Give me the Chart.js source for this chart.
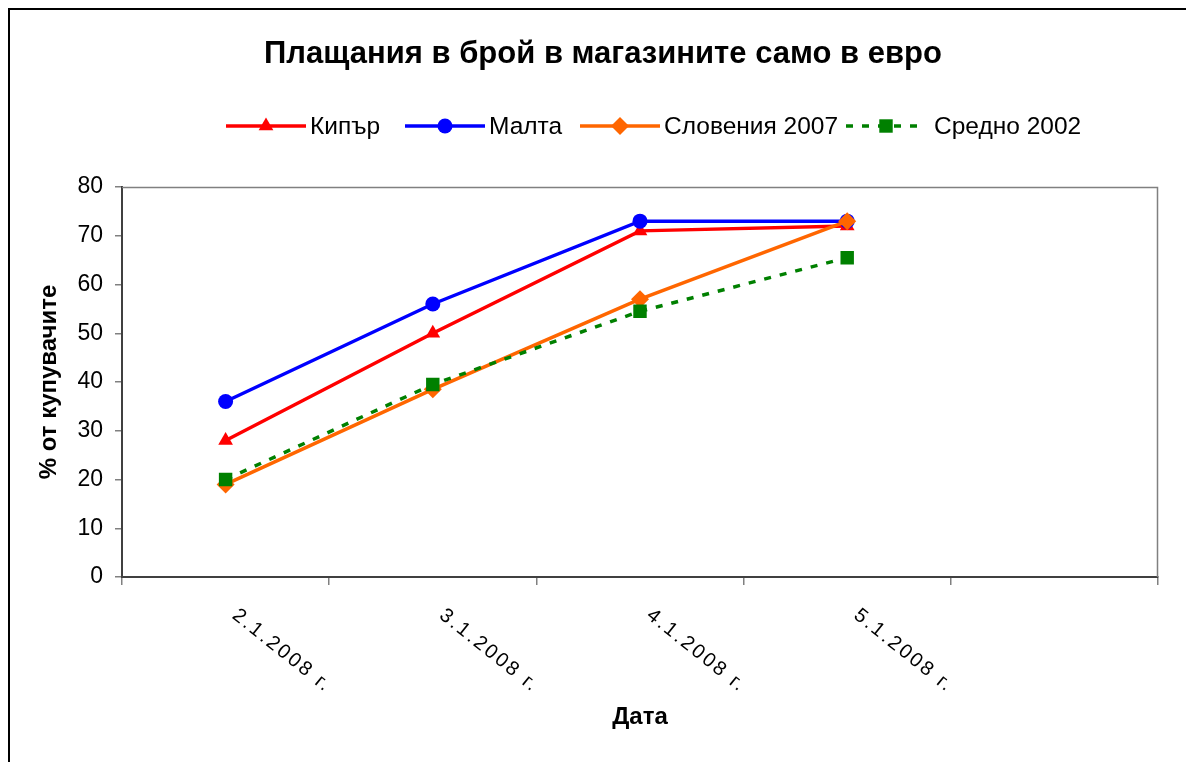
<!DOCTYPE html>
<html>
<head>
<meta charset="utf-8">
<script src="https://cdn.jsdelivr.net/npm/chart.js@4.4.0/dist/chart.umd.min.js"></script>
<style>
  html, body { margin: 0; padding: 0; background: #fff; }
  #wrap { width: 1186px; height: 762px; position: relative; }
</style>
</head>
<body>
<div id="wrap"><canvas id="c" width="1186" height="762"></canvas></div>
<script>
// Dates of the survey (the fifth slot is left empty on the axis)
const dates = ['2.1.2008 г.', '3.1.2008 г.', '4.1.2008 г.', '5.1.2008 г.', ''];

// Share of shoppers paying cash only in euro, %
const cyprus       = [28, 50, 71, 72, null];
const malta        = [36, 56, 73, 73, null];
const slovenia2007 = [19, 38.5, 57, 73, null];
const average2002  = [20, 39.5, 54.5, 65.5, null];

const seriesNames = ['Кипър', 'Малта', 'Словения 2007', 'Средно 2002'];
const yMin = 0, yMax = 80, yStep = 10;

const chartTitle = 'Плащания в брой в магазините само в евро';
const yTitle = '% от купувачите';
const xTitle = 'Дата';

const FONT = '"Liberation Sans", Arial, sans-serif';

const series = [
  { name: seriesNames[0], data: cyprus,       color: '#FF0000', style: 'triangle', radius: 8.5, dash: [],     order: 3 },
  { name: seriesNames[1], data: malta,        color: '#0000FF', style: 'circle',   radius: 7.5, dash: [],     order: 2 },
  { name: seriesNames[2], data: slovenia2007, color: '#FF6600', style: 'rectRot',  radius: 9,   dash: [],     order: 1 },
  { name: seriesNames[3], data: average2002,  color: '#008000', style: 'rect',     radius: 9.5, dash: [7, 9], order: 0 }
];

function drawMarker(ctx, style, r, x, y, color) {
  ctx.save();
  ctx.fillStyle = color;
  ctx.beginPath();
  if (style === 'circle') {
    ctx.arc(x, y, r, 0, Math.PI * 2);
  } else if (style === 'triangle') {
    const a = Math.PI * 2 / 3;
    for (let i = 0; i < 3; i++) {
      const px = x + Math.sin(i * a) * r, py = y - Math.cos(i * a) * r;
      i ? ctx.lineTo(px, py) : ctx.moveTo(px, py);
    }
    ctx.closePath();
  } else if (style === 'rectRot') {
    ctx.moveTo(x - r, y); ctx.lineTo(x, y - r); ctx.lineTo(x + r, y); ctx.lineTo(x, y + r);
    ctx.closePath();
  } else {
    const s = r * Math.SQRT1_2;
    ctx.rect(x - s, y - s, 2 * s, 2 * s);
  }
  ctx.fill();
  ctx.restore();
}

const decor = {
  id: 'decor',
  beforeDraw(chart) {
    const ctx = chart.ctx;
    ctx.save();
    ctx.fillStyle = '#fff';
    ctx.fillRect(0, 0, chart.width, chart.height);
    ctx.restore();
  },
  afterDraw(chart) {
    const { ctx, chartArea: a } = chart;
    const xs = chart.scales.x;
    ctx.save();

    // plot frame: top and right edges
    ctx.strokeStyle = '#808080';
    ctx.lineWidth = 1.5;
    ctx.beginPath();
    ctx.moveTo(a.left, a.top + 0.5);
    ctx.lineTo(a.right - 0.5, a.top + 0.5);
    ctx.lineTo(a.right - 0.5, a.bottom);
    ctx.stroke();

    // outer frame
    ctx.strokeStyle = '#000';
    ctx.lineWidth = 2;
    ctx.beginPath();
    ctx.moveTo(9, chart.height + 2);
    ctx.lineTo(9, 9);
    ctx.lineTo(chart.width + 2, 9);
    ctx.stroke();

    // title
    ctx.fillStyle = '#000';
    ctx.font = 'bold 31px ' + FONT;
    ctx.textAlign = 'center';
    ctx.textBaseline = 'middle';
    ctx.fillText(chartTitle, 603, 54);

    // legend
    ctx.font = '24.5px ' + FONT;
    ctx.textAlign = 'left';
    const lx = [226, 405, 580, 846];
    series.forEach((s, i) => {
      const x0 = lx[i], y = 126;
      ctx.strokeStyle = s.color;
      ctx.lineWidth = 3.5;
      ctx.setLineDash(s.dash);
      ctx.beginPath();
      ctx.moveTo(x0, y);
      ctx.lineTo(x0 + 80, y);
      ctx.stroke();
      ctx.setLineDash([]);
      drawMarker(ctx, s.style, s.radius, x0 + 40, y, s.color);
      ctx.fillStyle = '#000';
      ctx.fillText(s.name, x0 + (i === 3 ? 88 : 84), y + 1);
    });

    // rotated category labels
    ctx.font = '20px ' + FONT;
    ctx.fillStyle = '#000';
    ctx.textAlign = 'left';
    ctx.textBaseline = 'middle';
    if ('letterSpacing' in ctx) ctx.letterSpacing = '2.5px';
    dates.forEach((d, i) => {
      if (!d) return;
      const px = xs.getPixelForValue(i);
      ctx.save();
      ctx.translate(px + 9, a.bottom + 36);
      ctx.rotate(38.7 * Math.PI / 180);
      ctx.fillText(d, 0, 0);
      ctx.restore();
    });
    ctx.restore();
  }
};

new Chart(document.getElementById('c'), {
  type: 'line',
  data: {
    labels: dates,
    datasets: series.map(s => ({
      label: s.name,
      data: s.data,
      borderColor: s.color,
      backgroundColor: s.color,
      borderWidth: 3.5,
      borderDash: s.dash,
      pointStyle: s.style,
      pointRadius: s.radius,
      pointHoverRadius: s.radius,
      pointBorderWidth: 0,
      pointBackgroundColor: s.color,
      tension: 0,
      fill: false,
      order: s.order
    }))
  },
  options: {
    responsive: false,
    devicePixelRatio: 1,
    animation: false,
    layout: { padding: { left: 0, top: 187, right: 28, bottom: 0 } },
    plugins: {
      legend: { display: false },
      title: { display: false },
      tooltip: { enabled: false }
    },
    scales: {
      x: {
        type: 'category',
        offset: true,
        grid: { offset: true, drawOnChartArea: false, drawTicks: true, tickLength: 8, color: '#808080', lineWidth: 1.5 },
        border: { color: '#404040', width: 2 },
        ticks: { display: false },
        title: { display: true, text: xTitle, color: '#000', font: { family: FONT, size: 24, weight: 'bold' }, padding: { top: 0, bottom: 30 } },
        afterFit(scale) { scale.height = 185; }
      },
      y: {
        min: yMin, max: yMax,
        grid: { drawOnChartArea: false, drawTicks: true, tickLength: 7, color: '#808080', lineWidth: 1.5 },
        border: { color: '#404040', width: 2 },
        ticks: { stepSize: yStep, color: '#000', padding: 12, font: { family: FONT, size: 23 } },
        title: { display: true, text: yTitle, color: '#000', font: { family: FONT, size: 24, weight: 'bold' }, padding: { top: 35, bottom: 0 } },
        afterFit(scale) { scale.width = 122; }
      }
    }
  },
  plugins: [decor]
});
</script>
</body>
</html>
